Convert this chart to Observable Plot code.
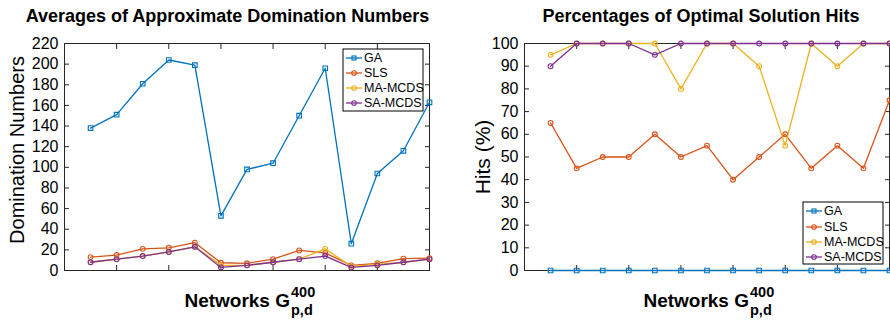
<!DOCTYPE html>
<html>
<head>
<meta charset="utf-8">
<script src="https://cdn.jsdelivr.net/npm/d3@7"></script>
<script src="https://cdn.jsdelivr.net/npm/@observablehq/plot@0.6"></script>
<style>
  html, body { margin: 0; padding: 0; background: #fff; }
  #wrap { position: relative; width: 890px; height: 323px; overflow: hidden; background: #fff; }
  #wrap svg { position: absolute; top: 0; }
</style>
</head>
<body>
<div id="wrap"></div>
<script>
// ---- data ----
const networks = [1, 2, 3, 4, 5, 6, 7, 8, 9, 10, 11, 12, 13, 14];
const seriesNames = ["GA", "SLS", "MA-MCDS", "SA-MCDS"];
const seriesColors = ["#0072BD", "#D95319", "#EDB120", "#7E2F8E"];

const domGA   = [138, 151, 181, 204, 199, 53, 98, 104, 150, 196, 26, 94, 116, 163];
const domSLS  = [13, 15, 21, 22, 27, 7.5, 7, 11, 19.5, 17, 5, 7, 11.5, 12];
const domMA   = [8, 11, 14, 18, 23, 5, 5, 8, 11, 21, 4, 6, 8, 11];
const domSA   = [8, 11, 14, 18, 23, 3, 5, 8, 11, 14, 3, 5, 8, 11];

const hitsGA  = [0, 0, 0, 0, 0, 0, 0, 0, 0, 0, 0, 0, 0, 0];
const hitsSLS = [65, 45, 50, 50, 60, 50, 55, 40, 50, 60, 45, 55, 45, 75];
const hitsMA  = [95, 100, 100, 100, 100, 80, 100, 100, 90, 55, 100, 90, 100, 100];
const hitsSA  = [90, 100, 100, 100, 95, 100, 100, 100, 100, 100, 100, 100, 100, 100];

const domTicks  = [0, 20, 40, 60, 80, 100, 120, 140, 160, 180, 200, 220];
const hitsTicks = [0, 10, 20, 30, 40, 50, 60, 70, 80, 90, 100];
const xTicks    = [0, 2, 4, 6, 8, 10, 12, 14];

const leftTitle = "Averages of Approximate Domination Numbers";
const rightTitle = "Percentages of Optimal Solution Hits";
const leftYLabel = "Domination Numbers";
const rightYLabel = "Hits (%)";

function toRows(lists) {
  const rows = [];
  seriesNames.forEach((s, k) => {
    lists[k].forEach((v, i) => rows.push({net: networks[i], series: s, value: v}));
  });
  return rows;
}

const axisColor = "#262626";
const FONT = "Liberation Sans, Arial, Helvetica, sans-serif";

function panel({rows, yDomain, yTicks, marginLeft, marginRight}) {
  const marks = [
    Plot.frame({stroke: axisColor, strokeWidth: 1}),
    Plot.axisY({ticks: yTicks, tickSize: -5, tickPadding: 11, label: null, fill: "#000"}),
    Plot.axisY({anchor: "right", ticks: yTicks, tickSize: -5, tickFormat: () => "", label: null}),
    Plot.axisX({ticks: xTicks, tickSize: -5, tickFormat: () => "", label: null}),
    Plot.axisX({anchor: "top", ticks: xTicks, tickSize: -5, tickFormat: () => "", label: null})
  ];
  seriesNames.forEach(s => {
    const d = rows.filter(r => r.series === s);
    marks.push(Plot.line(d, {x: "net", y: "value", stroke: "series", strokeWidth: 1.3}));
    marks.push(Plot.dot(d, {x: "net", y: "value", stroke: "series", fill: "none",
      symbol: s === "GA" ? "square" : "circle", r: s === "GA" ? 2.6 : 2.4, strokeWidth: 1.1}));
  });
  return Plot.plot({
    width: 445, height: 323,
    marginLeft, marginRight, marginTop: 43, marginBottom: 53,
    x: {domain: [0, 14]},
    y: {domain: yDomain},
    color: {domain: seriesNames, range: seriesColors},
    style: {fontFamily: FONT, fontSize: "16px", color: axisColor, background: "transparent", overflow: "visible"},
    marks
  });
}

function decorate(svg, o) {
  const g = d3.select(svg).append("g").attr("font-family", FONT).attr("text-anchor", "start");
  // title
  g.append("text").attr("x", o.titleX).attr("y", 22).attr("text-anchor", "middle")
    .attr("font-weight", "bold").attr("font-size", 18).attr("fill", "#000").text(o.title);
  // y label
  g.append("text").attr("transform", `translate(${o.yLabelX},${o.yLabelY}) rotate(-90)`)
    .attr("text-anchor", "middle").attr("dominant-baseline", "central")
    .attr("font-size", o.yLabelSize).attr("fill", "#000").text(o.yLabel);
  // x label  Networks G^{400}_{p,d}
  g.append("text").attr("x", o.xlEnd).attr("y", 307).attr("text-anchor", "end")
    .attr("font-weight", "bold").attr("font-size", 19).attr("fill", "#000").text("Networks G");
  g.append("text").attr("x", o.xlEnd + 1).attr("y", 297).attr("text-anchor", "start")
    .attr("font-weight", "bold").attr("font-size", 14.5).attr("fill", "#000").text("400");
  g.append("text").attr("x", o.xlEnd + 1).attr("y", 314.5).attr("text-anchor", "start")
    .attr("font-weight", "bold").attr("font-size", 14.5).attr("fill", "#000").text("p,d");
  // legend
  const L = g.append("g").attr("transform", `translate(${o.legX},${o.legY})`);
  L.append("rect").attr("x", 0).attr("y", 0).attr("width", 80).attr("height", 62)
    .attr("fill", "#fff").attr("stroke", "#000").attr("stroke-width", 1);
  seriesNames.forEach((s, k) => {
    const yy = o.legRows[k];
    L.append("line").attr("x1", 3).attr("x2", 19).attr("y1", yy).attr("y2", yy)
      .attr("stroke", seriesColors[k]).attr("stroke-width", 1.3);
    if (s === "GA") {
      L.append("rect").attr("x", 9).attr("y", yy - 2).attr("width", 4).attr("height", 4)
        .attr("fill", "none").attr("stroke", seriesColors[k]).attr("stroke-width", 1.1);
    } else {
      L.append("circle").attr("cx", 11).attr("cy", yy).attr("r", 2.3)
        .attr("fill", "none").attr("stroke", seriesColors[k]).attr("stroke-width", 1.1);
    }
    L.append("text").attr("x", 21).attr("y", yy).attr("text-anchor", "start")
      .attr("dominant-baseline", "central")
      .attr("font-size", 12.5).attr("fill", "#000").text(s);
  });
}

const wrap = document.getElementById("wrap");

const left = panel({
  rows: toRows([domGA, domSLS, domMA, domSA]),
  yDomain: [0, 220], yTicks: domTicks, marginLeft: 64, marginRight: 16
});
left.style.left = "0px";
wrap.appendChild(left);
decorate(left, {
  title: leftTitle, titleX: 227.5,
  yLabel: leftYLabel, yLabelX: 17, yLabelY: 150, yLabelSize: 20,
  xlEnd: 290,
  legX: 343, legY: 49, legRows: [9, 24, 39, 54]
});

const right = panel({
  rows: toRows([hitsGA, hitsSLS, hitsMA, hitsSA]),
  yDomain: [0, 100], yTicks: hitsTicks, marginLeft: 79, marginRight: 1
});
right.style.left = "445px";
wrap.appendChild(right);
decorate(right, {
  title: rightTitle, titleX: 256,
  yLabel: rightYLabel, yLabelX: 37, yLabelY: 157, yLabelSize: 21,
  xlEnd: 304,
  legX: 358, legY: 202, legRows: [9, 25, 40, 55]
});
</script>
</body>
</html>
